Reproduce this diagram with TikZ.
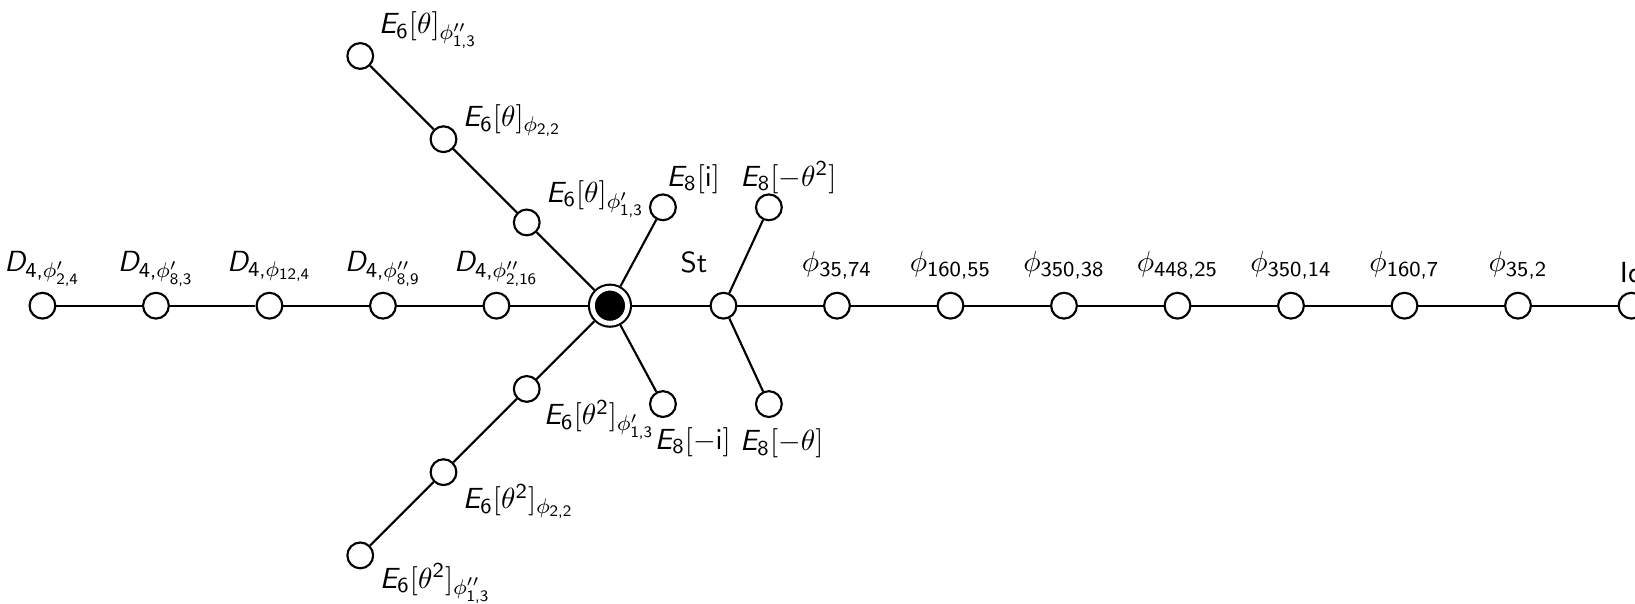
\documentclass[11pt,tikz,border=0pt]{standalone}
\usepackage{tikz}
\usepackage{amsmath}

% sans letters and digits in math, Greek stays Computer Modern
\DeclareSymbolFont{sfletters}{OT1}{cmss}{m}{sl}
\DeclareSymbolFont{sfdigits}{OT1}{cmss}{m}{n}
\DeclareMathSymbol{D}{\mathalpha}{sfletters}{`D}
\DeclareMathSymbol{E}{\mathalpha}{sfletters}{`E}
\DeclareMathSymbol{0}{\mathalpha}{sfdigits}{`0}
\DeclareMathSymbol{1}{\mathalpha}{sfdigits}{`1}
\DeclareMathSymbol{2}{\mathalpha}{sfdigits}{`2}
\DeclareMathSymbol{3}{\mathalpha}{sfdigits}{`3}
\DeclareMathSymbol{4}{\mathalpha}{sfdigits}{`4}
\DeclareMathSymbol{5}{\mathalpha}{sfdigits}{`5}
\DeclareMathSymbol{6}{\mathalpha}{sfdigits}{`6}
\DeclareMathSymbol{7}{\mathalpha}{sfdigits}{`7}
\DeclareMathSymbol{8}{\mathalpha}{sfdigits}{`8}
\DeclareMathSymbol{9}{\mathalpha}{sfdigits}{`9}
\DeclareMathSymbol{,}{\mathpunct}{sfdigits}{`,}

\begin{document}
\begin{tikzpicture}[thick, font=\sffamily]
	\useasboundingbox (-8.061,-3.929) rectangle (13.546,4.040);
	
	% VERTICES
	\tikzstyle{every node}=[circle, fill = white, draw=black, minimum size=9.7pt, inner sep=0pt]
	\path (-7.5,0) node (d1) {};
	\path (-6,0) node (d2) {};
	\path (-4.5,0) node (d3) {};
	\path (-3,0) node (d4) {};
	\path (-1.5,0) node (d5) {};
	\path (0,0) node[fill=black, double=white, double distance=1.8pt, minimum size=13.2pt, outer sep=1.7pt] (c) {};
	\path (1.5,0) node (st) {};
	\path (3,0) node (p1) {};
	\path (4.5,0) node (p2) {};
	\path (6,0) node (p3) {};
	\path (7.5,0) node (p4) {};
	\path (9,0) node (p5) {};
	\path (10.5,0) node (p6) {};
	\path (12,0) node (p7) {};
	\path (13.5,0) node (id) {};
	\path (-1.1,1.1) node (u1) {};
	\path (-2.2,2.2) node (u2) {};
	\path (-3.3,3.3) node (u3) {};
	\path (-1.1,-1.1) node (w1) {};
	\path (-2.2,-2.2) node (w2) {};
	\path (-3.3,-3.3) node (w3) {};
	\path (0.7,1.3) node (ei) {};
	\path (0.7,-1.3) node (emi) {};
	\path (2.1,1.3) node (et2) {};
	\path (2.1,-1.3) node (et) {};
	
	% EDGES
	\draw (d1)--(d2);
	\draw (d2)--(d3);
	\draw (d3)--(d4);
	\draw (d4)--(d5);
	\draw (d5)--(c);
	\draw (c)--(st);
	\draw (st)--(p1);
	\draw (p1)--(p2);
	\draw (p2)--(p3);
	\draw (p3)--(p4);
	\draw (p4)--(p5);
	\draw (p5)--(p6);
	\draw (p6)--(p7);
	\draw (p7)--(id);
	\draw (c)--(u1);
	\draw (u1)--(u2);
	\draw (u2)--(u3);
	\draw (c)--(w1);
	\draw (w1)--(w2);
	\draw (w2)--(w3);
	\draw (c)--(ei);
	\draw (c)--(emi);
	\draw (st)--(et2);
	\draw (st)--(et);
	
	% LABELS
	\tikzstyle{every node}=[inner sep=0pt, anchor=base]
	\path (-7.5,.45) node (d1l) {$D_{4,\phi'_{2,4}}$};
	\path (-6,.45) node (d2l) {$D_{4,\phi'_{8,3}}$};
	\path (-4.5,.45) node (d3l) {$D_{4,\phi_{12,4}}$};
	\path (-3,.45) node (d4l) {$D_{4,\phi''_{8,9}}$};
	\path (-1.5,.45) node (d5l) {$D_{4,\phi''_{2,16}}$};
	\path (1.11,.44) node (stl) {St};
	\path (3,.45) node (p1l) {$\phi_{35,74}$};
	\path (4.5,.45) node (p2l) {$\phi_{160,55}$};
	\path (6,.45) node (p3l) {$\phi_{350,38}$};
	\path (7.5,.45) node (p4l) {$\phi_{448,25}$};
	\path (9,.45) node (p5l) {$\phi_{350,14}$};
	\path (10.5,.45) node (p6l) {$\phi_{160,7}$};
	\path (12,.45) node (p7l) {$\phi_{35,2}$};
	\path (13.5,.31) node (idl) {Id};
	
	\tikzstyle{every node}=[inner sep=0pt, anchor=base west]
	\path (-3.067,3.595) node (u3l) {$E_6[\theta]_{\phi''_{1,3}}$};
	\path (-1.957,2.364) node (u2l) {$E_6[\theta]_{\phi_{2,2}}$};
	\path (-0.858,1.364) node (u1l) {$E_6[\theta]_{\phi'_{1,3}}$};
	\path (-0.889,-1.572) node (w1l) {$E_6[\theta^2]_{\phi'_{1,3}}$};
	\path (-1.957,-2.684) node (w2l) {$E_6[\theta^2]_{\phi_{2,2}}$};
	\path (-3.054,-3.731) node (w3l) {$E_6[\theta^2]_{\phi''_{1,3}}$};
	\path (0.736,1.58) node (eil) {$E_8[\mathsf{i}]$};
	\path (1.71,1.58) node (et2l) {$E_8[-\theta^2]$};
	\path (0.58,-1.9) node (emil) {$E_8[-\mathsf{i}]$};
	\path (1.705,-1.92) node (etl) {$E_8[-\theta]$};
	
\end{tikzpicture}
\end{document}
